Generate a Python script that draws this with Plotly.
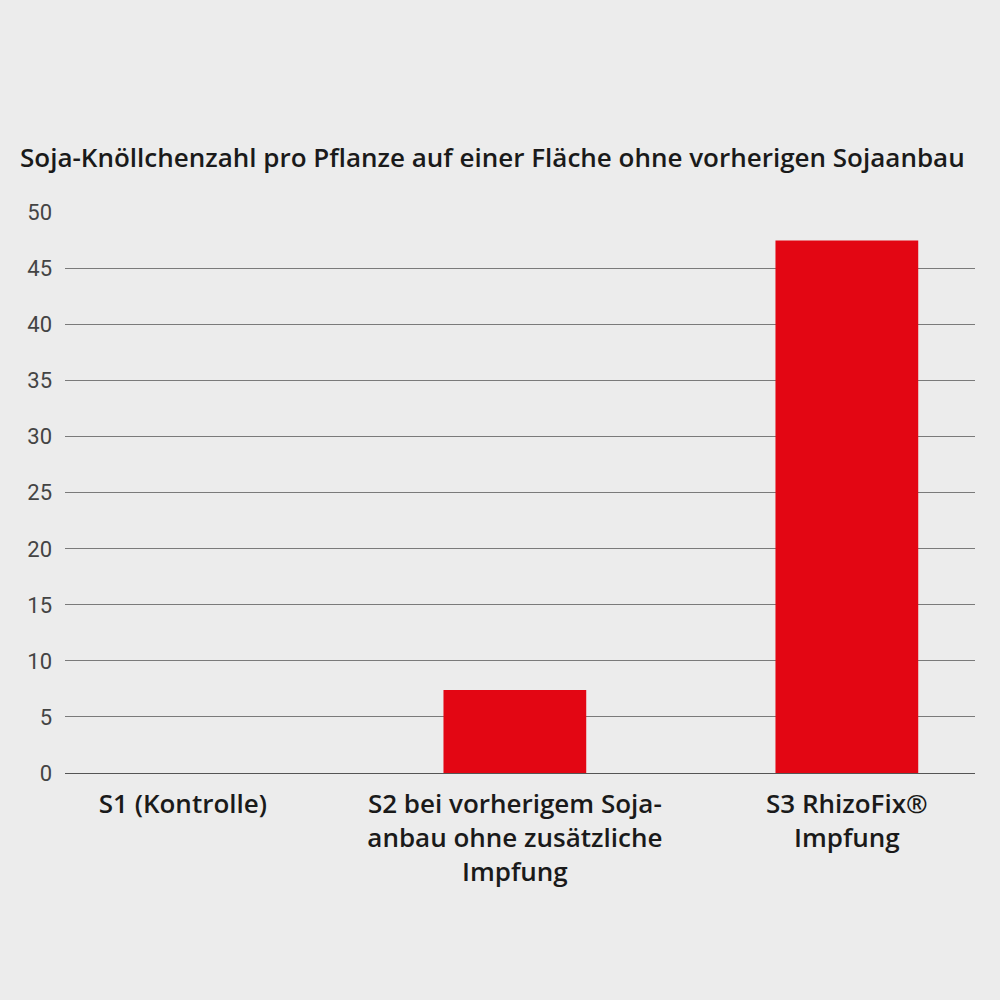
import plotly.graph_objects as go

# Daten
categories = ["S1 (Kontrolle)",
              "S2 bei vorherigem Soja-<br>anbau ohne zusätzliche<br>Impfung",
              "S3 RhizoFix®<br>Impfung"]
values = [0, 7.4, 47.5]
y_ticks = [0, 5, 10, 15, 20, 25, 30, 35, 40, 45, 50]

title_text = "Soja-Knöllchenzahl pro Pflanze auf einer Fläche ohne vorherigen Sojaanbau"

fig = go.Figure(go.Bar(x=[0, 1, 2], y=values,
                       marker=dict(color="#e30613", line=dict(width=0)),
                       width=0.43))

fig.update_layout(
    width=1000, height=1000,
    paper_bgcolor="#ececec", plot_bgcolor="#ececec",
    margin=dict(l=65, r=25, t=212, b=227),
    showlegend=False,
    font=dict(family="Open Sans", color="#1a1a1a"),
    title=dict(text=title_text, xref="container", yref="container",
               x=0.02, xanchor="left", y=0.842, yanchor="middle",
               font=dict(family="Open Sans", size=26, color="#1a1a1a", weight=600)),
)

# x-Achse: Kategorien
fig.update_xaxes(range=[-0.355, 2.386], tickvals=[0, 1, 2], ticktext=categories,
                 showgrid=False, zeroline=False, showline=False,
                 ticks="outside", ticklen=0, ticklabelstandoff=8,
                 tickfont=dict(family="Open Sans", size=26, color="#1a1a1a", weight=600))

# y-Achse
fig.update_yaxes(range=[0, 50.05], tickvals=y_ticks,
                 showgrid=True, gridcolor="#7a7a7a", gridwidth=1,
                 zeroline=True, zerolinecolor="#555555", zerolinewidth=1.3,
                 showline=False, ticklabelstandoff=12,
                 tickfont=dict(family="Roboto", size=22, color="#444444"))

fig.write_html("out.html", config={"displayModeBar": False},
               post_script="document.body.style.margin='0';")
